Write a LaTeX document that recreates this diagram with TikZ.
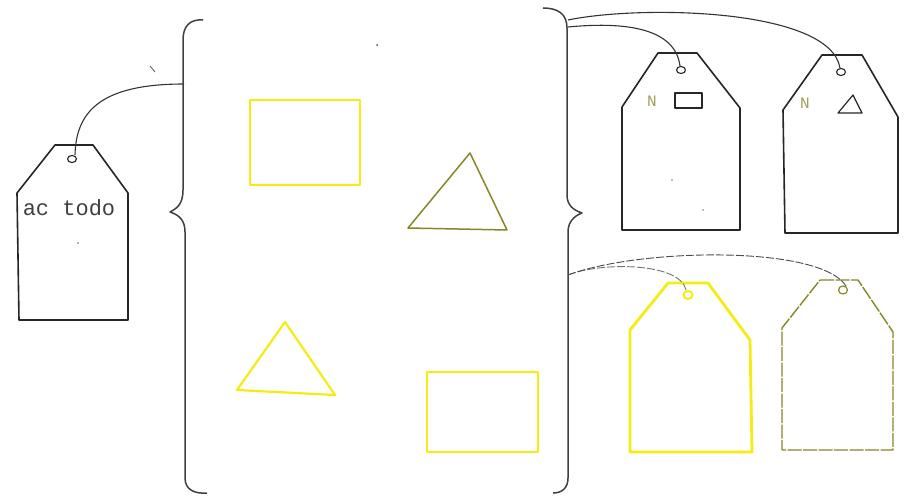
\documentclass[tikz,border=0pt]{standalone}
\usepackage{fontspec}
\newfontfamily\typew{Liberation Mono}
\begin{document}
\begin{tikzpicture}[x=1pt,y=-1pt,
  ink/.style={draw=black!85,line width=1.6pt,line join=round,line cap=round},
  yel/.style={draw=yellowA,line width=2.2pt,line join=round},
  oli/.style={draw=oliveA,line width=1.4pt,line join=round},
  strng/.style={draw=black!80,line width=1.1pt},
  faint/.style={draw=black!55,line width=0.9pt,dash pattern=on 8pt off 2pt},
  brace/.style={draw=black!75,line width=1.5pt,line join=round},
  lbl/.style={font=\typew\fontsize{22}{22}\selectfont,text=black!75,inner sep=0pt},
  nlbl/.style={font=\typew\fontsize{16}{16}\selectfont,text=oliveB,inner sep=0pt}]
\definecolor{yellowA}{RGB}{246,236,20}
\definecolor{oliveA}{RGB}{135,135,40}
\definecolor{oliveB}{RGB}{160,160,90}
\useasboundingbox (0,0) rectangle (916,500);
\fill[white] (0,0) rectangle (916,500);

% ---- left tag
\draw[ink] (55,145) -- (93,145) -- (128,193) -- (128,320) -- (19,320) -- (17,193) -- cycle;
\draw[ink,line width=1.1pt] (72,159) ellipse (4.5 and 3.5);
\node[lbl] (actodo) at (69,208) {ac todo};
\fill[black!60] (78,243) circle (0.9);
\coordinate (h0) at (75,155);
\coordinate (lj) at (184,84);
\draw[strng] (h0) .. controls (76,112) and (100,84) .. (lj);
\draw[black!60,line width=0.9pt] (150,66) -- (155,72);

% ---- left brace
\draw[brace] (203,20) .. controls (190,19) and (183,26) .. (183,40)
  -- (183,190) .. controls (183,203) and (178,208) .. (170,212)
  .. controls (179,215) and (185,220) .. (185,232)
  -- (185,478) .. controls (185,490) and (195,494) .. (207,493);

% ---- centre shapes
\draw[yel] (250,100) rectangle (360,185);
\draw[oli,line width=1.5pt] (470,153) -- (507,230) -- (408,228) -- cycle;
\draw[yel] (285,322) -- (335,395) -- (237,390) -- cycle;
\draw[yel] (427,372) rectangle (538,452);
\fill[black!70] (377,45) circle (1);

% ---- right brace
\draw[brace] (543,8) .. controls (558,8) and (567,14) .. (567,28)
  -- (567,195) .. controls (567,205) and (573,210) .. (582,213)
  .. controls (574,216) and (568,222) .. (568,232)
  -- (568,478) .. controls (568,488) and (562,493) .. (553,493);

% ---- tag A (N rectangle)
\draw[ink] (658,53) -- (697,53) -- (740,108) -- (740,230) -- (622,230) -- (622,107) -- cycle;
\draw[ink,line width=1.1pt] (681,70) ellipse (4.5 and 3.5);
\node[nlbl] (nA) at (652,101) {N};
\draw[ink,line width=1.2pt] (675,93) rectangle (702,108);
\fill[black!50] (672,180) circle (0.8);
\fill[black!50] (703,210) circle (0.8);

% ---- tag B (N triangle)
\draw[ink] (822,55) -- (862,55) -- (898,117) -- (898,233) -- (785,233) -- (783,110) -- cycle;
\draw[ink,line width=1.1pt] (841,72) ellipse (4.5 and 3.5);
\node[nlbl] (nB) at (805,103) {N};
\draw[ink,line width=1.2pt] (853,95) -- (862,113) -- (838,113) -- cycle;

% ---- upper strings
\coordinate (rj1) at (568,27);
\coordinate (rj2) at (568,20);
\coordinate (hA) at (680,66);
\coordinate (hB) at (840,68);
\draw[strng] (rj1) .. controls (620,22) and (675,26) .. (hA);
\draw[strng] (rj2) .. controls (640,5) and (830,8) .. (hB);

% ---- tag C (yellow)
\draw[yel,line width=2.8pt] (668,283) -- (708,283) -- (750,340) -- (752,452) -- (630,452) -- (630,330) -- cycle;
\draw[yel,line width=2pt] (688,295) ellipse (4.5 and 4);

% ---- tag D (olive)
\draw[oli,dash pattern=on 14pt off 1.5pt] (820,280) -- (858,280) -- (893,332) -- (893,450) -- (782,450) -- (782,328) -- cycle;
\draw[oli,line width=1.2pt] (843,290) ellipse (4.5 and 4);

% ---- lower strings
\coordinate (rj3) at (568,275);
\coordinate (hC) at (686,290);
\coordinate (hD) at (846,286);
\draw[faint] (rj3) .. controls (600,262) and (680,262) .. (hC);
\draw[faint,draw=black!70] (rj3) .. controls (640,248) and (820,245) .. (hD);
\end{tikzpicture}
\end{document}
